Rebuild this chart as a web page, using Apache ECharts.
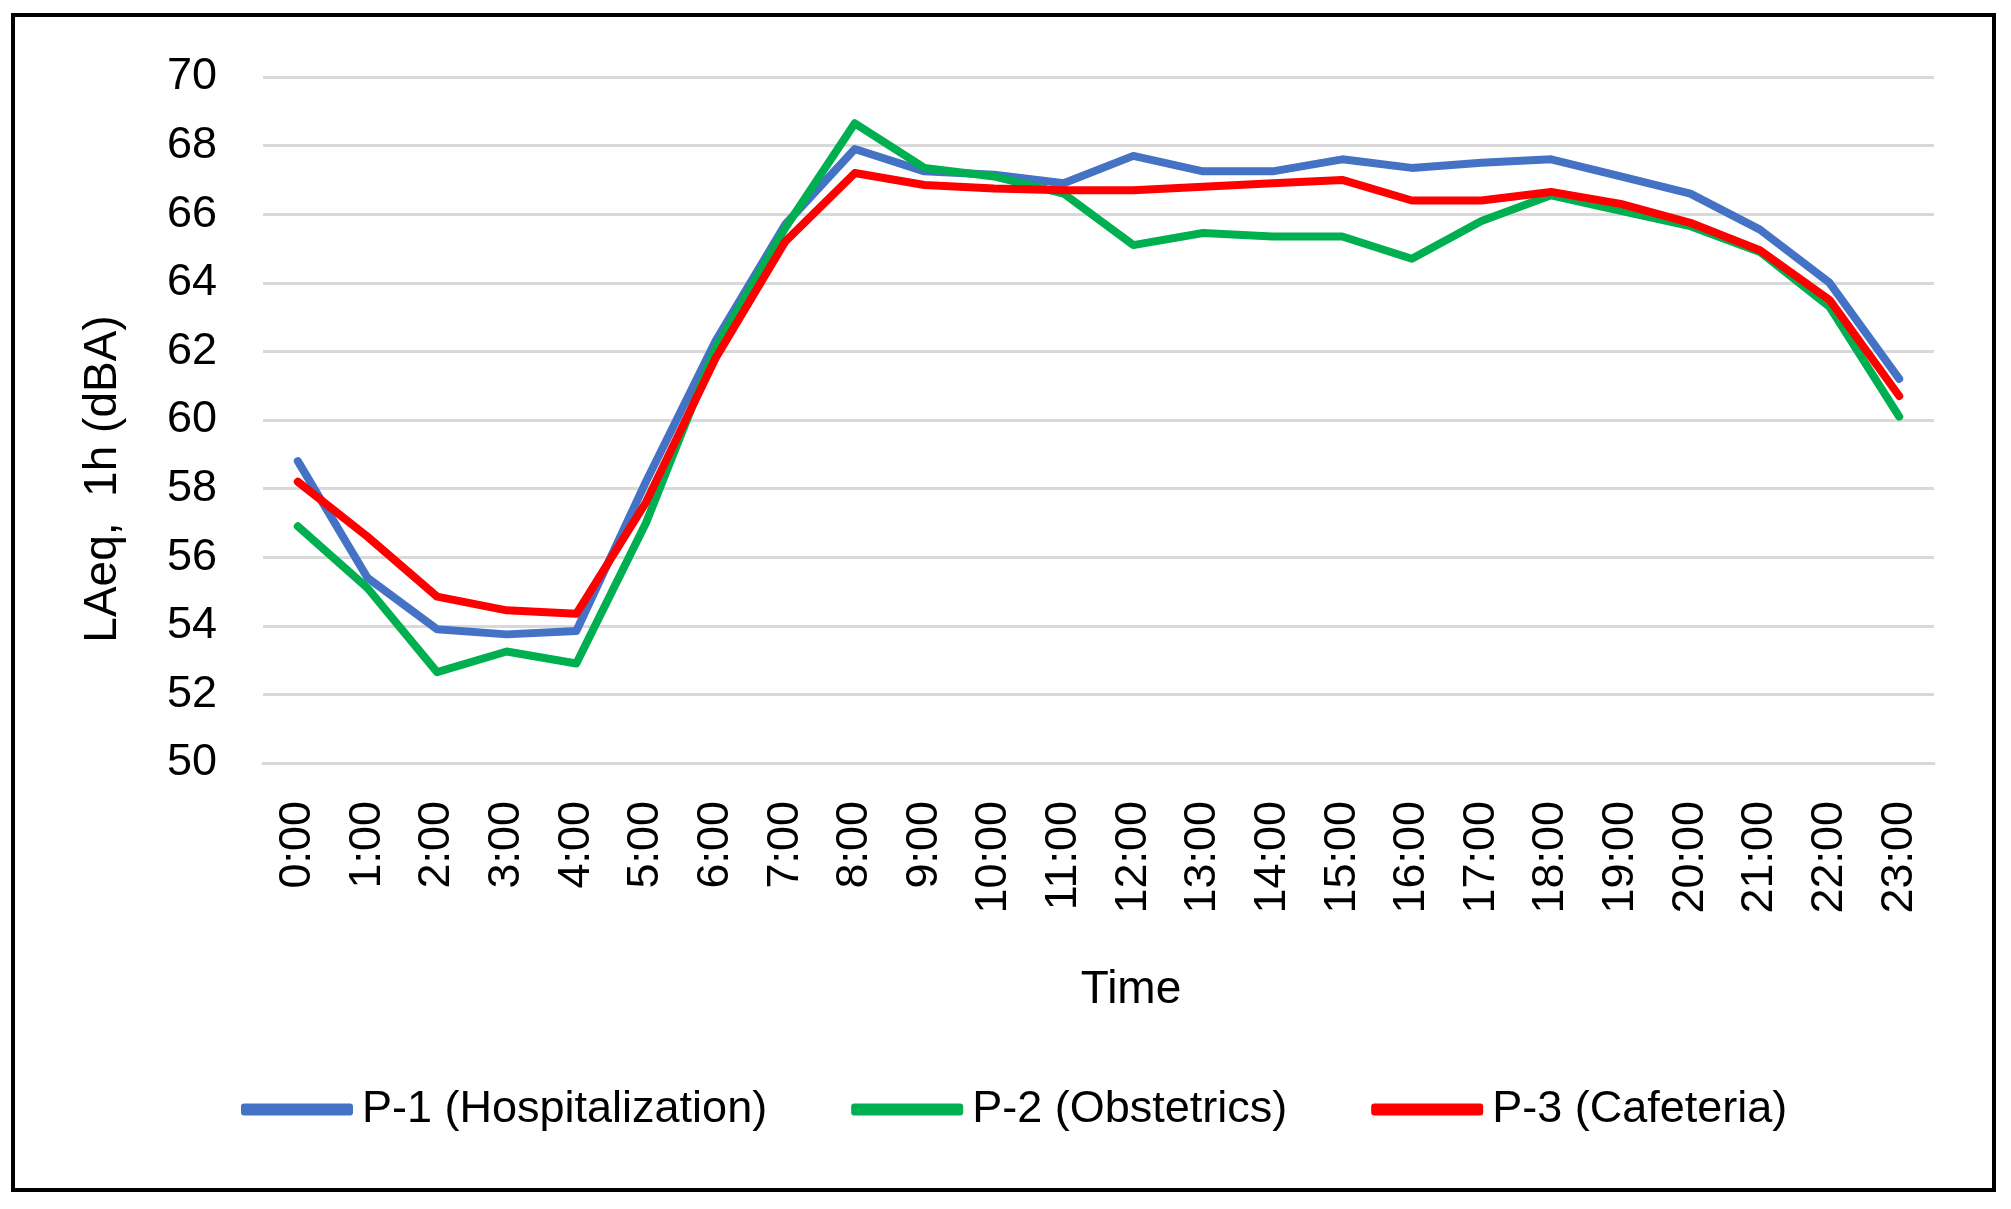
<!DOCTYPE html>
<html>
<head>
<meta charset="utf-8">
<script src="https://cdn.jsdelivr.net/npm/echarts@6/dist/echarts.min.js"></script>
<style>
  html, body { margin: 0; padding: 0; background: #ffffff; }
  #chart { width: 2011px; height: 1209px; }
</style>
</head>
<body>
<div id="chart"></div>
<script>
// ---- Data ----
var hours = ['0:00','1:00','2:00','3:00','4:00','5:00','6:00','7:00','8:00','9:00','10:00','11:00',
             '12:00','13:00','14:00','15:00','16:00','17:00','18:00','19:00','20:00','21:00','22:00','23:00'];
var p1Hospitalization = [58.8, 55.4, 53.9, 53.75, 53.85, 58.2, 62.3, 65.7, 67.9, 67.25, 67.15, 66.9,
                         67.7, 67.25, 67.25, 67.6, 67.35, 67.5, 67.6, 67.1, 66.6, 65.55, 64.0, 61.2];
var p2Obstetrics = [56.9, 55.1, 52.65, 53.25, 52.9, 57.0, 62.1, 65.6, 68.65, 67.35, 67.1, 66.6,
                    65.1, 65.45, 65.35, 65.35, 64.7, 65.8, 66.55, 66.1, 65.65, 64.9, 63.3, 60.1];
var p3Cafeteria = [58.2, 56.6, 54.85, 54.45, 54.35, 57.6, 61.8, 65.2, 67.2, 66.85, 66.75, 66.7,
                   66.7, 66.8, 66.9, 67.0, 66.4, 66.4, 66.65, 66.3, 65.75, 64.95, 63.5, 60.7];
var seriesNames = ['P-1 (Hospitalization)', 'P-2 (Obstetrics)', 'P-3 (Cafeteria)'];
var yMin = 50, yMax = 70, yStep = 2;
var yTitle = 'LAeq,  1h (dBA)';
var xTitle = 'Time';

var FONT = '"Liberation Sans", Arial, sans-serif';
var colors = ['#4472C4', '#00B050', '#FF0000'];

var chart = echarts.init(document.getElementById('chart'), null, { renderer: 'canvas' });

function lineSeries(name, data, color) {
  return {
    name: name,
    type: 'line',
    data: data,
    symbol: 'none',
    smooth: false,
    lineStyle: { color: color, width: 8, join: 'round', cap: 'round' },
    itemStyle: { color: color }
  };
}

chart.setOption({
  animation: false,
  backgroundColor: '#ffffff',
  grid: { left: 263, right: 77, top: 77, bottom: 446, containLabel: false },
  xAxis: {
    type: 'category',
    data: hours,
    boundaryGap: true,
    axisLine: { show: true, lineStyle: { color: '#d9d9d9', width: 3 } },
    axisTick: { show: false },
    axisLabel: {
      rotate: 90,
      margin: 38,
      interval: 0,
      color: '#000000',
      fontFamily: FONT,
      fontSize: 45
    },
    splitLine: { show: false }
  },
  yAxis: {
    type: 'value',
    min: yMin,
    max: yMax,
    interval: yStep,
    axisLine: { show: false },
    axisTick: { show: false },
    axisLabel: {
      margin: 46,
      color: '#000000',
      fontFamily: FONT,
      fontSize: 45
    },
    splitLine: { show: true, lineStyle: { color: '#d9d9d9', width: 3 } }
  },
  legend: {
    left: 236,
    top: 1082,
    itemWidth: 112,
    itemHeight: 12,
    itemGap: 84,
    icon: 'roundRect',
    data: seriesNames,
    textStyle: { color: '#000000', fontFamily: FONT, fontSize: 45, padding: [0, 0, 0, 4] }
  },
  graphic: [
    {
      type: 'rect',
      shape: { x: 13, y: 15, width: 1981, height: 1175 },
      style: { fill: 'none', stroke: '#000000', lineWidth: 4 },
      silent: true,
      z: 100
    },
    {
      type: 'text',
      x: 103,
      y: 479,
      rotation: Math.PI / 2,
      style: {
        text: yTitle,
        fill: '#000000',
        font: '46px ' + FONT,
        align: 'center',
        verticalAlign: 'middle'
      }
    },
    {
      type: 'text',
      x: 1131,
      y: 990,
      style: {
        text: xTitle,
        fill: '#000000',
        font: '46px ' + FONT,
        align: 'center',
        verticalAlign: 'middle'
      }
    }
  ],
  series: [
    lineSeries(seriesNames[0], p1Hospitalization, colors[0]),
    lineSeries(seriesNames[1], p2Obstetrics, colors[1]),
    lineSeries(seriesNames[2], p3Cafeteria, colors[2])
  ]
});
</script>
</body>
</html>
